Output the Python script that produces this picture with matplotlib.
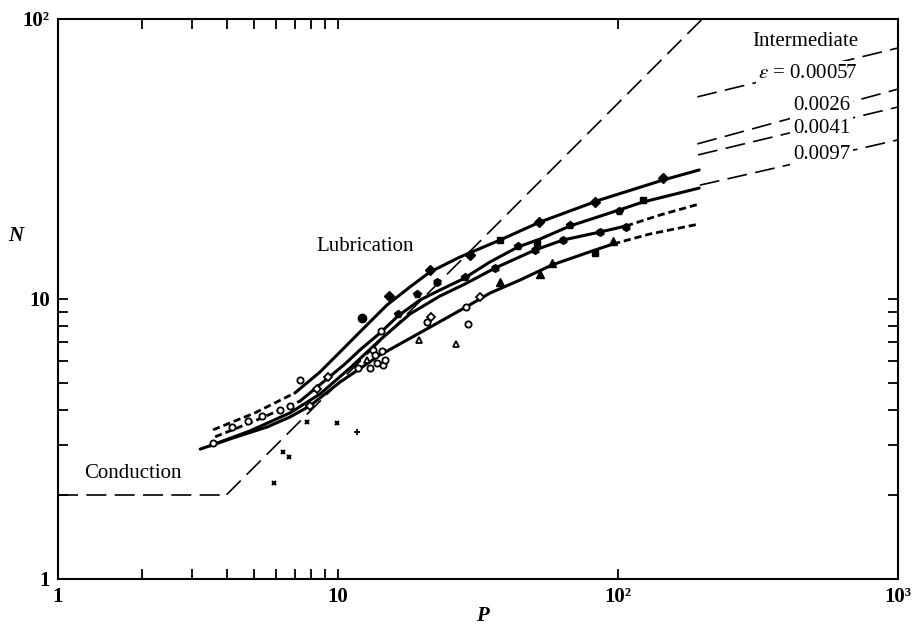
import matplotlib
matplotlib.use("Agg")
import matplotlib.pyplot as plt
from matplotlib.ticker import FixedLocator, FixedFormatter, NullFormatter

plt.rcParams['font.family'] = ['Liberation Serif', 'DejaVu Serif']
plt.rcParams['mathtext.fontset'] = 'stix'

# ---------------- data ----------------
# conduction and lubrication asymptotes
cond_P = [1.0, 4.0]
cond_N = [2.0, 2.0]
lub_P = [4.0, 200.0]
lub_N = [2.0, 100.0]

# curve A (top)
a_dash_P = [3.58, 5.05, 7.02]
a_dash_N = [3.41, 3.92, 4.62]
a_P = [7.02, 8.63, 10.17, 11.98, 14.96, 18.07, 21.31, 27.3, 37.9, 52.7, 86.3, 144.8, 195.0]
a_N = [4.62, 5.49, 6.47, 7.63, 9.52, 11.04, 12.49, 14.13, 16.24, 18.84, 22.6, 26.6, 28.9]

# curve B
b_dash_P = [3.64, 5.05, 7.32]
b_dash_N = [3.22, 3.67, 4.32]
b_P = [7.32, 9.21, 10.59, 11.98, 14.13, 16.38, 19.63, 23.14, 27.95, 34.9, 43.95, 52.7, 67.4, 100.8, 122.9, 195.0]
b_N = [4.32, 5.22, 5.86, 6.58, 7.56, 8.70, 9.92, 10.77, 11.79, 13.56, 15.34, 16.38, 18.23, 20.79, 22.2, 24.9]

# curve C
c_P = [3.49, 4.85, 6.74, 8.63, 11.04, 14.13, 18.07, 23.14, 28.4, 36.4, 50.5, 63.6, 86.3, 106.8]
c_N = [2.99, 3.38, 3.92, 4.58, 5.67, 7.14, 8.84, 10.25, 11.31, 12.9, 14.96, 16.24, 17.35, 18.23]
c_dash_P = [106.8, 141.3, 195.0]
c_dash_N = [18.23, 19.95, 21.84]

# curve D (bottom)
d_P = [3.22, 4.22, 5.58, 6.74, 7.94, 10.17, 14.13, 20.45, 28.65, 34.9, 44.7, 58.1, 82.8, 96.0]
d_N = [2.91, 3.19, 3.49, 3.79, 4.15, 5.05, 6.31, 7.75, 9.36, 10.5, 11.69, 13.23, 14.96, 15.72]
d_dash_P = [96.0, 130.1, 195.0]
d_dash_N = [15.72, 17.07, 18.53]

# intermediate-regime lines
int_labels = [r'$\epsilon$ = 0.00057', '0.0026', '0.0041', '0.0097']
int_P0 = [192.0, 192.0, 193.0, 196.0]
int_N0 = [52.7, 35.8, 32.7, 25.5]
int_P1 = [1000.0, 1000.0, 1000.0, 1000.0]
int_N1 = [78.8, 56.2, 48.5, 37.0]
int_label_P = [719.0, 674.0, 674.0, 674.0]
int_label_N = [64.1, 49.3, 40.8, 32.7]

# experimental points
fdiam_P = [15.21, 21.31, 29.6, 52.2, 82.8, 144.8]
fdiam_N = [10.25, 12.69, 14.36, 18.84, 22.2, 27.05]
fcirc_P = [12.18]
fcirc_N = [8.55]
fsq_P = [37.9, 51.4, 122.9, 82.8]
fsq_N = [16.24, 15.85, 22.57, 14.6]
fpent_P = [16.38, 19.15, 28.4, 43.95, 67.4, 100.8]
fpent_N = [8.84, 10.42, 11.98, 15.47, 18.38, 20.62]
fhex_P = [22.57, 36.4, 50.5, 63.6, 86.3, 106.8]
fhex_N = [11.5, 12.9, 14.96, 16.24, 17.35, 18.07]
ftri_P = [37.9, 52.7, 58.1, 96.0]
ftri_N = [11.5, 12.28, 13.45, 16.11]
ocirc_P = [7.32, 14.24, 29.13, 28.65, 3.58, 20.79, 13.34, 14.36, 13.56, 14.5, 11.79, 13.0, 13.78, 14.72,
           4.18, 4.77, 5.35, 6.21, 6.74]
ocirc_N = [5.14, 7.69, 8.14, 9.36, 3.06, 8.28, 6.58, 6.52, 6.31, 5.81, 5.67, 5.67, 5.91, 6.06,
           3.49, 3.67, 3.82, 4.01, 4.15]
odiam_P = [7.94, 32.15, 9.21, 8.41, 21.5]
odiam_N = [4.15, 10.17, 5.27, 4.77, 8.6]
otri_P = [19.47, 26.4, 12.69]
otri_N = [7.14, 6.91, 6.06]
cross_P = [7.75, 9.92, 6.36, 6.68, 5.91]
cross_N = [3.64, 3.61, 2.84, 2.73, 2.20]
plus_P = [11.69]
plus_N = [3.35]

# tick labels
x_major = [1, 10, 100, 1000]
x_major_labels = ['1', '10', '10²', '10³']
y_major = [1, 10, 100]
y_major_labels = ['1', '10', '10²']
minor_vals = [2, 3, 4, 5, 6, 7, 8, 9]

# ---------------- figure ----------------
fig = plt.figure(figsize=(9.18, 6.27), dpi=100)
ax = fig.add_axes([58 / 918, 1 - 579 / 627, 840 / 918, 560 / 627])
ax.set_xscale('log')
ax.set_yscale('log')
ax.set_xlim(1, 1000)
ax.set_ylim(1, 100)

long_dash = (0, (12, 5))
short_dash = (0, (2.6, 1.4))

ax.plot(cond_P, cond_N, color='black', lw=1.2, ls=long_dash, zorder=2)
ax.plot(lub_P, lub_N, color='black', lw=1.2, ls=long_dash, zorder=2)

solid_kw = dict(color='black', lw=2.2, solid_capstyle='round', solid_joinstyle='round', zorder=3)
dash_kw = dict(color='black', lw=2.0, ls=short_dash, zorder=3)
ax.plot(a_dash_P, a_dash_N, **dash_kw)
ax.plot(a_P, a_N, **solid_kw)
ax.plot(b_dash_P, b_dash_N, **dash_kw)
ax.plot(b_P, b_N, **solid_kw)
ax.plot(c_P, c_N, **solid_kw)
ax.plot(c_dash_P, c_dash_N, **dash_kw)
ax.plot(d_P, d_N, **solid_kw)
ax.plot(d_dash_P, d_dash_N, **dash_kw)

for p0, n0, p1, n1 in zip(int_P0, int_N0, int_P1, int_N1):
    ax.plot([p0, p1], [n0, n1], color='black', lw=1.2, ls=long_dash, zorder=2)

for lab, lp, ln in zip(int_labels, int_label_P, int_label_N):
    ax.text(lp, ln, lab, ha='right', va='center', fontsize=15, zorder=5,
            bbox=dict(facecolor='white', edgecolor='none', pad=2))
ax.text(719.0, 83.4, 'Intermediate', ha='right', va='center', fontsize=15, zorder=5,
        bbox=dict(facecolor='white', edgecolor='none', pad=2))

ax.text(12.49, 15.34, 'Lubrication', ha='center', va='center', fontsize=15)
ax.text(1.845, 2.39, 'Conduction', ha='center', va='center', fontsize=15)

mk = dict(ls='none', mec='black', zorder=4)
ax.plot(fdiam_P, fdiam_N, marker='D', ms=5, mfc='black', **mk)
ax.plot(fcirc_P, fcirc_N, marker='o', ms=6, mfc='black', **mk)
ax.plot(fsq_P, fsq_N, marker='s', ms=5, mfc='black', **mk)
ax.plot(fpent_P, fpent_N, marker='p', ms=5.5, mfc='black', **mk)
ax.plot(fhex_P, fhex_N, marker='h', ms=5.5, mfc='black', **mk)
ax.plot(ftri_P, ftri_N, marker='^', ms=6, mfc='black', **mk)
ax.plot(ocirc_P, ocirc_N, marker='o', ms=4.5, mfc='white', mew=1.3, **mk)
ax.plot(odiam_P, odiam_N, marker='D', ms=4, mfc='white', mew=1.3, **mk)
ax.plot(otri_P, otri_N, marker='^', ms=5, mfc='white', mew=1.3, **mk)
ax.plot(cross_P, cross_N, marker='x', ms=3.5, mew=1.5, **mk)
ax.plot(plus_P, plus_N, marker='+', ms=4, mew=1.3, **mk)

# ticks
ax.xaxis.set_major_locator(FixedLocator(x_major))
ax.xaxis.set_major_formatter(FixedFormatter(x_major_labels))
ax.xaxis.set_minor_locator(FixedLocator(minor_vals))
ax.xaxis.set_minor_formatter(NullFormatter())
ax.yaxis.set_major_locator(FixedLocator(y_major))
ax.yaxis.set_major_formatter(FixedFormatter(y_major_labels))
ax.yaxis.set_minor_locator(FixedLocator(minor_vals))
ax.yaxis.set_minor_formatter(NullFormatter())
ax.tick_params(which='both', direction='in', top=True, right=True, length=7.5, width=1.3)
ax.tick_params(axis='x', which='major', pad=6, labelsize=15)
ax.tick_params(axis='y', which='major', pad=6, labelsize=15)
for lab in ax.get_xticklabels() + ax.get_yticklabels():
    lab.set_fontweight('bold')
for s in ax.spines.values():
    s.set_linewidth(1.5)

ax.text(-0.05, 0.6125, 'N', transform=ax.transAxes, ha='center', va='center',
        style='italic', weight='bold', fontsize=15)
ax.text(0.505, -0.066, 'P', transform=ax.transAxes, ha='center', va='center',
        style='italic', weight='bold', fontsize=15)

fig.savefig('out.png', dpi=100)
